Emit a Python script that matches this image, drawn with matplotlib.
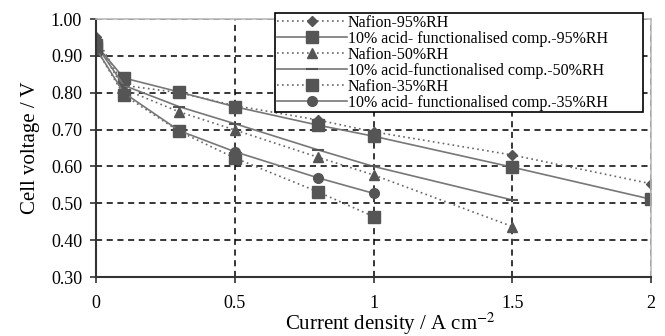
import matplotlib.pyplot as plt

plt.rcParams['font.family'] = ['Liberation Serif', 'DejaVu Serif']
plt.rcParams['mathtext.fontset'] = 'stix'

current = [0, 0.1, 0.3, 0.5, 0.8, 1.0, 1.5, 2.0]

nafion_95 = [0.951, 0.82, 0.80, 0.765, 0.726, 0.694, 0.631, 0.553]
comp_95 = [0.93, 0.84, 0.802, 0.762, 0.712, 0.682, 0.598, 0.511]
nafion_50 = [0.94, 0.81, 0.748, 0.699, 0.625, 0.577, 0.437]
comp_50 = [0.93, 0.82, 0.762, 0.716, 0.645, 0.60, 0.509]
nafion_35 = [0.92, 0.794, 0.695, 0.623, 0.531, 0.464]
comp_35 = [0.92, 0.80, 0.697, 0.64, 0.569, 0.527]

labels = [
    "Nafion-95%RH",
    "10% acid- functionalised comp.-95%RH",
    "Nafion-50%RH",
    "10% acid-functionalised comp.-50%RH",
    "Nafion-35%RH",
    "10% acid- functionalised comp.-35%RH",
]


def plot():
    fig = plt.figure(figsize=(6.65, 3.36), dpi=100)
    ax = fig.add_axes([96 / 665, 59 / 336, 555 / 665, 258 / 336])

    mc = "#555555"
    dot = dict(color="#666666", linestyle=(0, (1, 2)), linewidth=1.2)
    solid = dict(color="#777777", linestyle="-", linewidth=1.2)

    ax.plot(current[:len(nafion_95)], nafion_95, marker="D", markersize=5,
            mfc=mc, mec=mc, label=labels[0], **dot)
    ax.plot(current[:len(comp_95)], comp_95, marker="s", markersize=8,
            mfc=mc, mec=mc, label=labels[1], **solid)
    ax.plot(current[:len(nafion_50)], nafion_50, marker="^", markersize=7,
            mfc=mc, mec=mc, label=labels[2], **dot)
    ax.plot(current[:len(comp_50)], comp_50, marker="_", markersize=9,
            mfc=mc, mec=mc, mew=1.5, label=labels[3], **solid)
    ax.plot(current[:len(nafion_35)], nafion_35, marker="s", markersize=8,
            mfc=mc, mec=mc, label=labels[4], **dot)
    ax.plot(current[:len(comp_35)], comp_35, marker="o", markersize=7,
            mfc=mc, mec=mc, label=labels[5], **solid)

    ax.set_xlim(0, 2)
    ax.set_ylim(0.3, 1.0)
    ax.set_xticks([0, 0.5, 1, 1.5, 2])
    ax.set_xticklabels(["0", "0.5", "1", "1.5", "2"])
    ax.set_yticks([0.3 + 0.1 * i for i in range(8)])
    ax.set_yticklabels(["%.2f" % (0.3 + 0.1 * i) for i in range(8)])
    ax.tick_params(axis="both", labelsize=13, direction="out", length=4,
                   width=1.2, color="#333333", pad=6)
    ax.tick_params(axis="x", pad=9)

    for sp in ["left", "bottom"]:
        ax.spines[sp].set_color("#333333")
        ax.spines[sp].set_linewidth(1.5)
    for sp in ["top", "right"]:
        ax.spines[sp].set_color("#bbbbbb")
        ax.spines[sp].set_linewidth(1.2)

    ax.grid(True, color="black", linestyle=(0, (4, 3)), linewidth=1.1)
    ax.set_axisbelow(True)

    # x label placed on the figure so it sits as low as in the original
    fig.text(390 / 665, 6 / 336, "Current density / A cm$^{-2}$", fontsize=15,
             ha="center", va="baseline")
    ax.set_ylabel("Cell voltage / V", fontsize=15, labelpad=8)

    leg = fig.legend(loc="upper left",
                     bbox_to_anchor=(275 / 665, 1 - 13 / 336, 368 / 665, 0),
                     mode="expand", fontsize=11.5, handlelength=4.4,
                     labelspacing=0.0, borderpad=0.1, handletextpad=0.05,
                     fancybox=False, framealpha=1, borderaxespad=0)
    leg.get_frame().set_edgecolor("black")
    leg.get_frame().set_linewidth(1.2)

    fig.savefig("out.png", dpi=100)


if __name__ == '__main__':
    plot()
